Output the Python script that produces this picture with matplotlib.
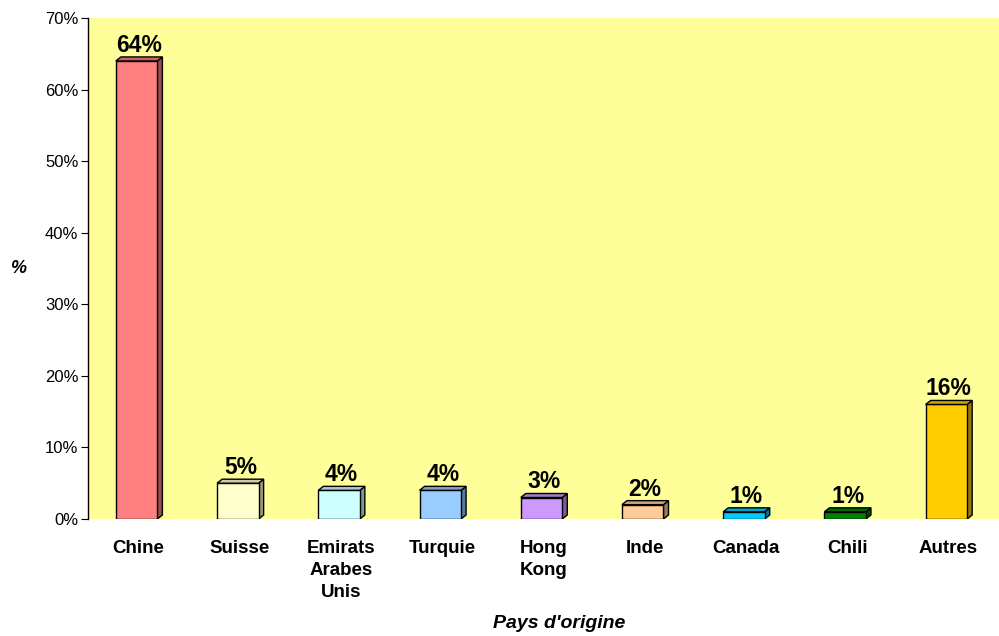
import numpy as np
import matplotlib
matplotlib.use('Agg')
import matplotlib.pyplot as plt
from matplotlib.patches import Polygon
from matplotlib.colors import to_rgb

plt.rcParams['font.family'] = ['Liberation Sans', 'DejaVu Sans']

## The Data ..
pays = ['Chine', 'Suisse', 'Emirats\nArabes\nUnis', 'Turquie', 'Hong\nKong',
        'Inde', 'Canada', 'Chili', 'Autres']
parts = [64, 5, 4, 4, 3, 2, 1, 1, 16]
couleurs = ['#FF8080', '#FFFFCC', '#CCFFFF', '#99CCFF', '#CC99FF',
            '#FFCC99', '#00CCFF', '#008000', '#FFCC00']

fig = plt.figure(figsize=(9.99, 6.36), dpi=100)
ax = fig.add_axes([0.0881, 0.184, 0.9119, 0.7877])
ax.set_facecolor('#FFFF99')

x = np.arange(len(pays))
w = 0.41
dx = 0.05   # depth, data units
dy = 0.56

bars = ax.bar(x - 0.02, parts, width=w, color=couleurs, edgecolor='black', linewidth=1.0, zorder=3)

# fake 3D faces
for b, c in zip(bars, couleurs):
    x0 = b.get_x()
    x1 = x0 + b.get_width()
    h = b.get_height()
    rgb = np.array(to_rgb(c))
    top = Polygon([(x0, h), (x1, h), (x1 + dx, h + dy), (x0 + dx, h + dy)],
                  closed=True, facecolor=rgb * 0.8, edgecolor='black', linewidth=1.0, zorder=3)
    side = Polygon([(x1, 0), (x1 + dx, dy), (x1 + dx, h + dy), (x1, h)],
                   closed=True, facecolor=rgb * 0.6, edgecolor='black', linewidth=1.0, zorder=2)
    ax.add_patch(side)
    ax.add_patch(top)
    ax.annotate(str(int(h)) + '%', (x0 + w / 2 + dx / 2, h + dy),
                xytext=(0, 0), textcoords='offset points',
                ha='center', va='bottom', fontsize=16.5, fontweight='bold')

ax.set_xlim(-0.5, len(pays) - 0.5)
ax.set_ylim(0, 70)
ax.set_yticks(np.arange(0, 71, 10))
ax.set_yticklabels([str(v) + '%' for v in range(0, 71, 10)], fontsize=12)
ax.set_xticks(x)
ax.set_xticklabels(pays, fontsize=13.5, fontweight='bold', linespacing=1.4)
ax.tick_params(axis='x', length=0, pad=15)
ax.tick_params(axis='y', length=5, direction='out', pad=2)

for s in ['top', 'right', 'bottom']:
    ax.spines[s].set_visible(False)
ax.spines['left'].set_linewidth(1.0)

ax.set_xlabel("Pays d'origine", fontsize=14, fontweight='bold', fontstyle='italic')
ax.set_ylabel('%', fontsize=13, fontweight='bold', fontstyle='italic', rotation=0, va='center')
ax.yaxis.set_label_coords(-0.077, 0.5)
ax.xaxis.set_label_coords(0.517, -0.192)

plt.savefig('out.png', dpi=100)
